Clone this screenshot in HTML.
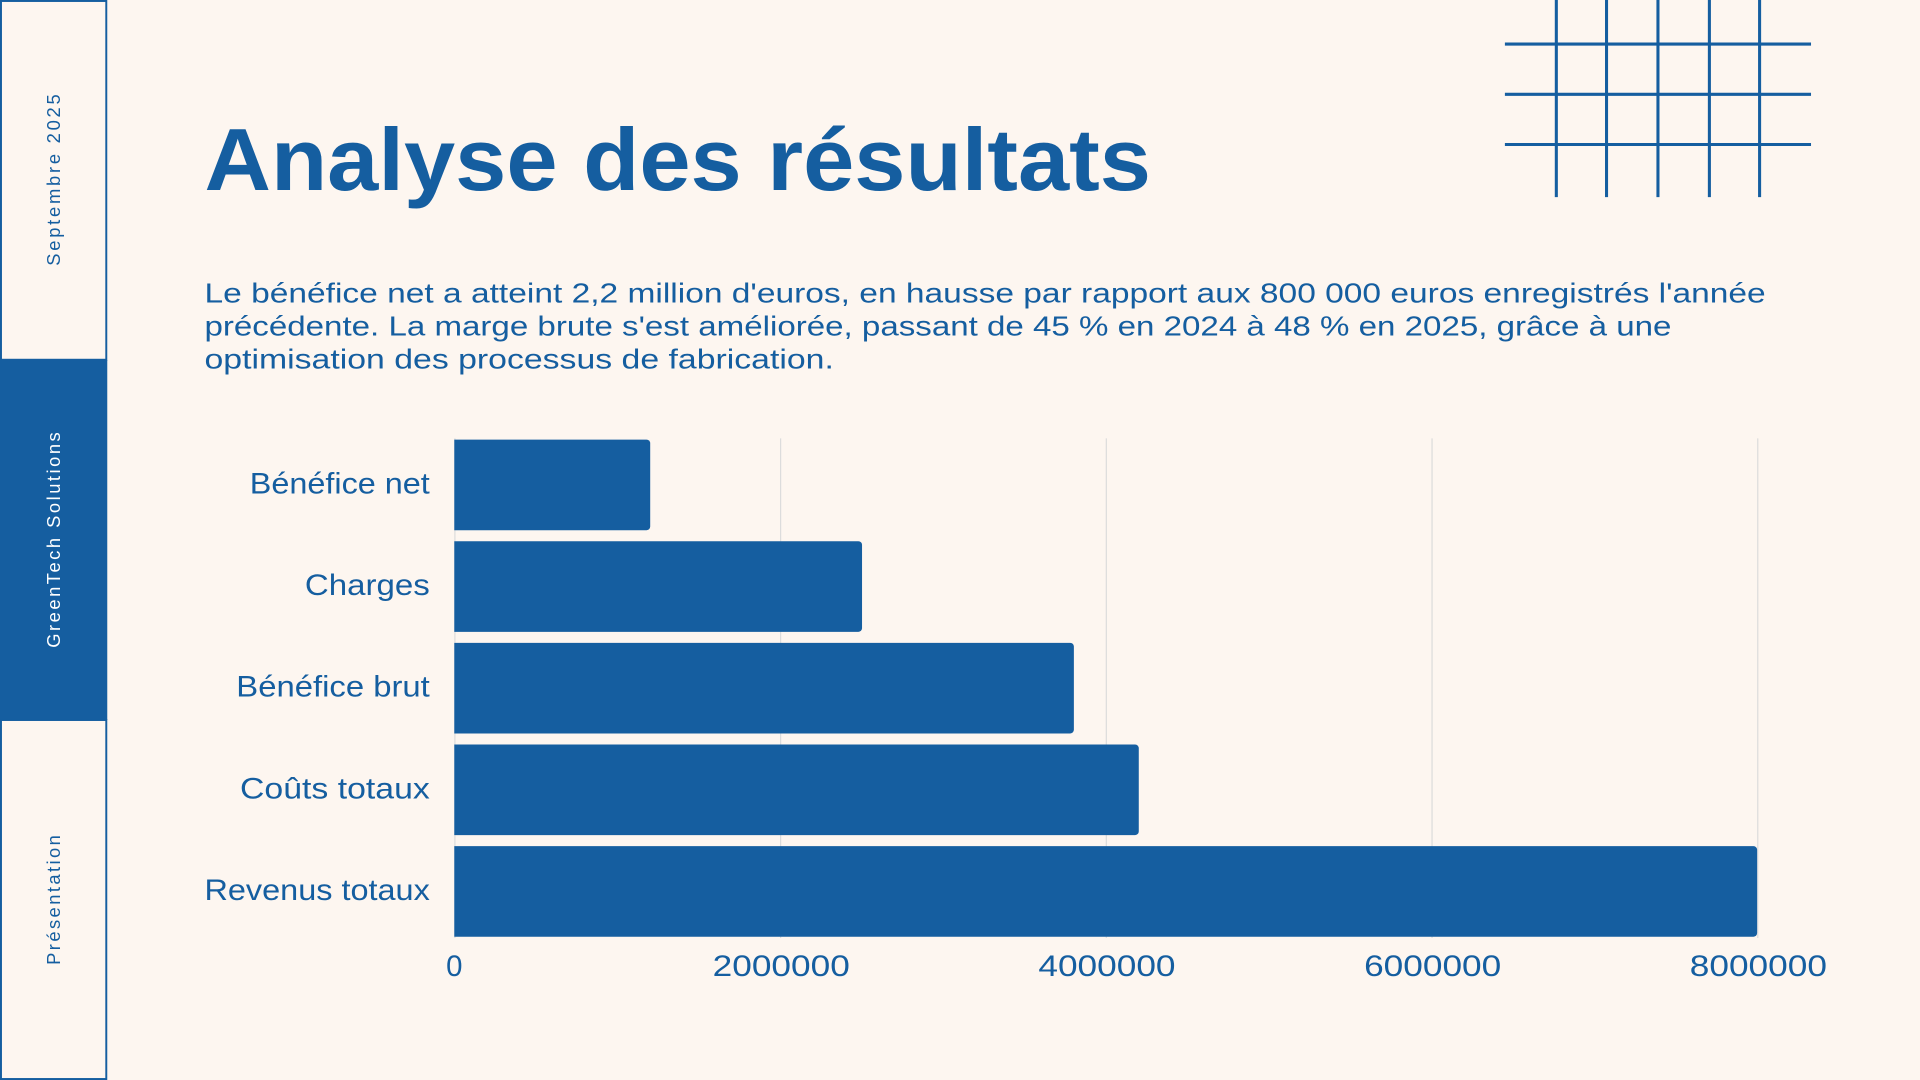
<!DOCTYPE html>
<html><head><meta charset="utf-8"><style>
html,body{margin:0;padding:0;background:#fdf6f0;}
svg{display:block;}
</style></head><body>
<svg width="1920" height="1080" viewBox="0 0 1568 882" xmlns="http://www.w3.org/2000/svg" font-family="Liberation Sans, sans-serif">
<rect width="1568" height="882" fill="#fdf6f0"/>
<rect x="0.8" y="0.8" width="86" height="293" fill="none" stroke="#155ea0" stroke-width="1.6"/>
<rect x="0" y="294" width="87.6" height="294" fill="#155ea0"/>
<rect x="0.8" y="588" width="86" height="293.2" fill="none" stroke="#155ea0" stroke-width="1.6"/>
<text transform="translate(49,147) rotate(-90)" text-anchor="middle" font-size="15" fill="#155ea0" textLength="140">Septembre 2025</text>
<text transform="translate(49,441) rotate(-90)" text-anchor="middle" font-size="15" fill="#ffffff" textLength="176">GreenTech Solutions</text>
<text transform="translate(49,735) rotate(-90)" text-anchor="middle" font-size="15" fill="#155ea0" textLength="106">Présentation</text>
<g stroke="#155ea0" stroke-width="2.5">
<line x1="1271" y1="0" x2="1271" y2="161"/><line x1="1312" y1="0" x2="1312" y2="161"/>
<line x1="1354" y1="0" x2="1354" y2="161"/><line x1="1396" y1="0" x2="1396" y2="161"/>
<line x1="1437" y1="0" x2="1437" y2="161"/>
<line x1="1229" y1="36" x2="1479" y2="36"/><line x1="1229" y1="77" x2="1479" y2="77"/>
<line x1="1229" y1="118" x2="1479" y2="118"/>
</g>
<text x="167" y="155" font-size="72" font-weight="bold" fill="#155ea0" textLength="773" lengthAdjust="spacingAndGlyphs">Analyse des résultats</text>
<g font-size="23" fill="#155ea0">
<text x="167" y="247" textLength="1275" lengthAdjust="spacingAndGlyphs">Le bénéfice net a atteint 2,2 million d'euros, en hausse par rapport aux 800 000 euros enregistrés l'année</text>
<text x="167" y="274" textLength="1198" lengthAdjust="spacingAndGlyphs">précédente. La marge brute s'est améliorée, passant de 45 % en 2024 à 48 % en 2025, grâce à une</text>
<text x="167" y="301" textLength="514" lengthAdjust="spacingAndGlyphs">optimisation des processus de fabrication.</text>
</g>
<g stroke="#dcdcdc" stroke-width="1">
<line x1="371.5" y1="358" x2="371.5" y2="766"/><line x1="637.5" y1="358" x2="637.5" y2="766"/>
<line x1="903.5" y1="358" x2="903.5" y2="766"/><line x1="1169.5" y1="358" x2="1169.5" y2="766"/>
<line x1="1435.5" y1="358" x2="1435.5" y2="766"/>
</g>
<g fill="#155ea0">
<path d="M371 359H528a3 3 0 0 1 3 3V430a3 3 0 0 1-3 3H371Z"/>
<path d="M371 442H701a3 3 0 0 1 3 3V513a3 3 0 0 1-3 3H371Z"/>
<path d="M371 525H874a3 3 0 0 1 3 3V596a3 3 0 0 1-3 3H371Z"/>
<path d="M371 608H927a3 3 0 0 1 3 3V679a3 3 0 0 1-3 3H371Z"/>
<path d="M371 691H1432a3 3 0 0 1 3 3V762a3 3 0 0 1-3 3H371Z"/>
</g>
<g font-size="24" fill="#155ea0" text-anchor="end" lengthAdjust="spacingAndGlyphs">
<text x="351" y="403" textLength="147" lengthAdjust="spacingAndGlyphs">Bénéfice net</text>
<text x="351" y="486" textLength="102" lengthAdjust="spacingAndGlyphs">Charges</text>
<text x="351" y="569" textLength="158" lengthAdjust="spacingAndGlyphs">Bénéfice brut</text>
<text x="351" y="652" textLength="155" lengthAdjust="spacingAndGlyphs">Coûts totaux</text>
<text x="351" y="735" textLength="184" lengthAdjust="spacingAndGlyphs">Revenus totaux</text>
</g>
<g font-size="24" fill="#155ea0" text-anchor="middle">
<text x="371" y="797">0</text>
<text x="638" y="797" textLength="112" lengthAdjust="spacingAndGlyphs">2000000</text>
<text x="904" y="797" textLength="112" lengthAdjust="spacingAndGlyphs">4000000</text>
<text x="1170" y="797" textLength="112" lengthAdjust="spacingAndGlyphs">6000000</text>
<text x="1436" y="797" textLength="112" lengthAdjust="spacingAndGlyphs">8000000</text>
</g>
</svg>
</body></html>
